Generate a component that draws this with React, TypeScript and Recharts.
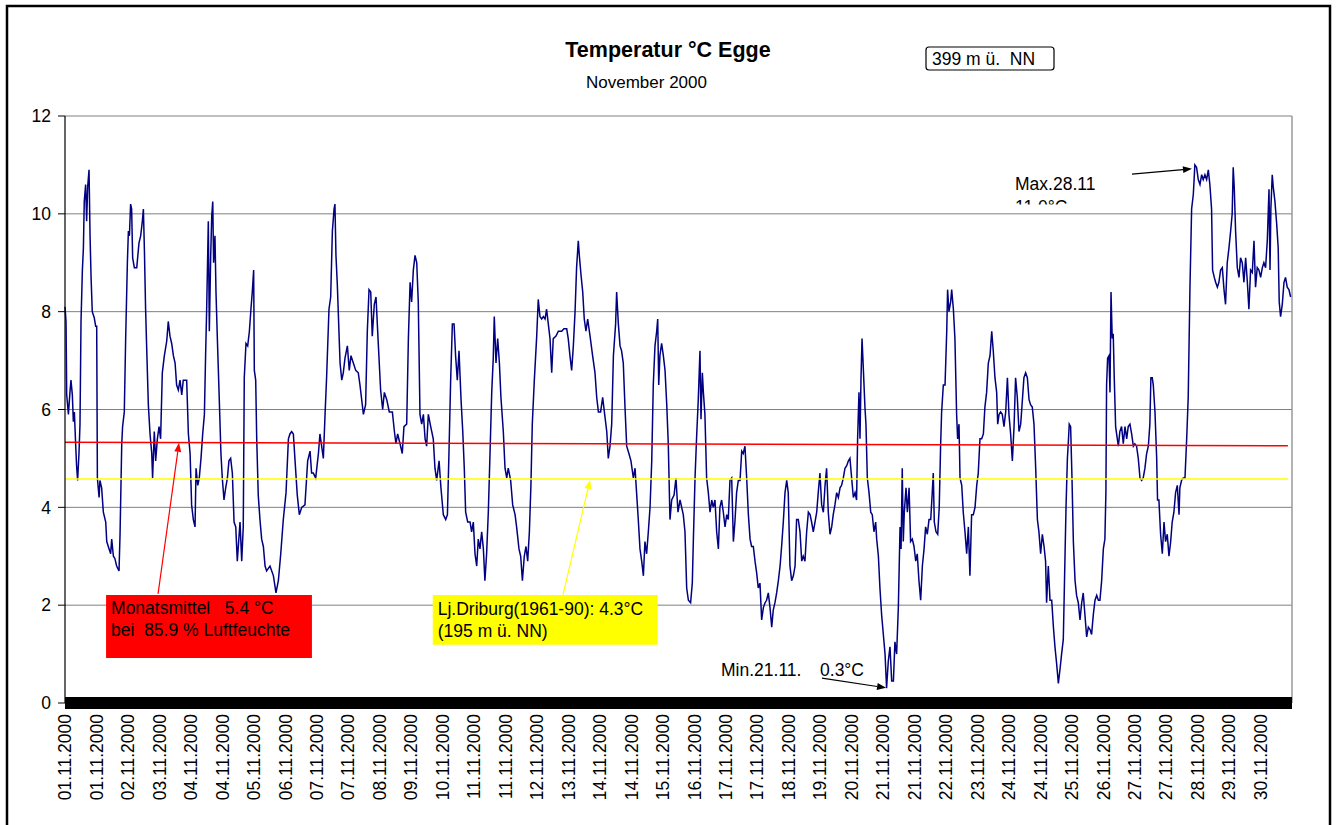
import React from 'react';
import { LineChart, Line, XAxis, YAxis, CartesianGrid, ReferenceLine, ReferenceArea } from 'recharts';

const FONT = '"Liberation Sans", Arial, Helvetica, sans-serif';

// x tick labels (one every ~18.5 h, as in the original category axis)
const tickLabels = [
  '01.11.2000', '01.11.2000', '02.11.2000', '03.11.2000', '04.11.2000', '04.11.2000', '05.11.2000',
  '06.11.2000', '07.11.2000', '07.11.2000', '08.11.2000', '09.11.2000', '10.11.2000', '11.11.2000',
  '11.11.2000', '12.11.2000', '13.11.2000', '14.11.2000', '14.11.2000', '15.11.2000', '16.11.2000',
  '17.11.2000', '17.11.2000', '18.11.2000', '19.11.2000', '20.11.2000', '21.11.2000', '21.11.2000',
  '22.11.2000', '23.11.2000', '24.11.2000', '24.11.2000', '25.11.2000', '26.11.2000', '27.11.2000',
  '27.11.2000', '28.11.2000', '29.11.2000', '30.11.2000',
];
const yTicks = [0, 2, 4, 6, 8, 10, 12];
const monthHours = 720;

// temperature readings: [hours since 01.11.2000 00:00, °C]
const block1: [number, number][] = [
  [0, 8.1], [0.6, 7.8], [1.0, 6.3], [2.0, 5.9], [2.9, 6.35], [3.5, 6.6], [4.3, 6.3], [4.9, 5.75], [5.5, 5.95], [6.3, 5.25],
  [6.8, 4.85], [7.4, 4.55], [8.2, 5.1], [8.8, 5.7], [9.4, 7.8], [10.2, 8.85], [10.8, 9.3], [11.3, 10.25], [12.1, 10.6],
  [12.7, 9.85], [13.3, 10.55], [14.1, 10.9], [14.7, 9.55], [15.3, 8.7], [16.0, 8.0], [17.2, 7.87], [18.0, 7.7], [18.6, 7.7],
  [19.0, 4.6], [20.0, 4.2], [20.5, 4.55], [21.5, 4.4], [22.5, 3.9], [23.9, 3.7], [24.5, 3.3], [25.4, 3.2], [26.8, 3.05],
  [27.4, 3.35], [28.4, 3.0], [29.3, 2.95], [30.3, 2.8], [31.7, 2.7], [32.3, 3.45], [33.3, 5.3], [33.8, 5.65], [34.8, 5.95],
  [35.6, 7.45], [36.6, 9.0], [37.2, 9.65], [37.8, 9.55], [38.5, 10.2], [39.1, 10.1], [39.7, 9.1], [40.7, 8.9], [42.1, 8.9],
  [43.4, 9.4], [44.4, 9.55], [45.4, 9.85], [46.0, 10.1], [46.6, 9.25], [47.3, 8.05], [47.9, 7.3], [48.9, 6.1], [49.9, 5.5],
  [50.9, 5.1], [51.4, 4.6], [52.4, 5.55], [53.2, 4.95], [54.2, 5.4], [55.2, 5.65], [56.1, 5.4], [57.1, 6.75], [58.3, 7.1],
  [59.7, 7.4], [60.6, 7.8], [61.6, 7.5], [62.6, 7.35], [63.6, 7.1], [64.6, 6.95], [65.5, 6.5], [66.5, 6.4], [67.5, 6.6],
  [68.5, 6.3], [69.4, 6.6], [71.4, 6.6], [72.4, 5.5], [73.4, 5.1], [74.3, 4.05], [75.3, 3.75], [76.3, 3.6], [76.9, 4.8],
  [77.9, 4.45], [78.8, 4.6], [79.8, 5.0], [80.8, 5.5], [81.8, 5.9], [82.5, 7.1], [83.1, 8.0], [84.1, 9.85], [84.7, 7.6],
  [85.5, 9.15], [86.1, 9.95], [86.7, 10.25], [87.2, 9.0], [88.0, 9.55], [88.6, 8.4], [89.4, 7.45], [90.4, 6.35], [91.5, 5.1],
  [92.3, 4.6], [93.3, 4.15], [94.3, 4.4], [95.3, 4.6], [96.2, 4.95], [97.2, 5.0], [98.2, 4.7], [99.2, 3.7], [100.2, 3.6],
  [101.1, 2.9], [102.7, 3.7], [103.7, 2.9], [104.6, 3.6], [105.2, 6.65], [106.2, 7.35], [107.2, 7.3], [108.2, 7.6],
  [109.1, 8.05], [109.9, 8.4], [110.7, 8.85], [111.1, 6.8], [111.9, 6.6], [112.5, 5.4], [113.4, 4.25], [114.4, 3.75],
  [115.4, 3.35], [116.4, 3.2], [117.4, 2.8], [118.3, 2.7], [120.3, 2.8],
];
const block2: [number, number][] = [
  [122.3, 2.6], [123.8, 2.25], [125.2, 2.5], [126.6, 3.05], [128.1, 3.75], [129.7, 4.3], [131.1, 5.4], [132.0, 5.5],
  [133.0, 5.55], [134.0, 5.5], [135.0, 4.95], [136.3, 4.25], [137.5, 3.85], [138.9, 4.0], [140.8, 4.05], [142.4, 4.95],
  [143.8, 5.15], [144.7, 4.7], [145.7, 4.7], [147.1, 4.6], [148.7, 5.1], [149.6, 5.5], [150.6, 5.25], [151.6, 5.0],
  [152.6, 5.9], [153.5, 6.65], [154.9, 8.05], [155.9, 8.3], [156.9, 9.65], [157.9, 10.1], [158.4, 10.2], [159.0, 9.15],
  [159.8, 8.55], [160.6, 7.75], [161.4, 6.95], [162.4, 6.6], [163.3, 6.75], [164.3, 7.05], [165.7, 7.3], [166.8, 6.8],
  [167.8, 7.1], [169.2, 6.95], [170.6, 6.8], [172.1, 6.75], [173.1, 6.5], [174.1, 6.2], [175.1, 5.9], [176.4, 6.1],
  [177.4, 7.6], [178.4, 8.45], [179.4, 8.4], [180.3, 7.5], [181.5, 8.15], [182.5, 8.3], [183.9, 7.3], [185.2, 6.4],
  [186.4, 6.0], [187.4, 6.35], [188.8, 6.2], [190.3, 5.95], [192.1, 5.95], [193.3, 5.55], [194.2, 5.3], [195.2, 5.5],
  [196.6, 5.3], [197.9, 5.1], [198.9, 5.65], [200.5, 5.7], [201.5, 7.45], [202.5, 8.6], [203.4, 8.2], [204.4, 8.85],
  [205.4, 9.15], [206.4, 9.0], [207.3, 8.2], [208.3, 5.9], [209.3, 5.7], [210.3, 5.9], [211.3, 5.4], [212.2, 5.25],
  [213.2, 5.9], [214.6, 5.65], [216.1, 5.4], [217.1, 4.8], [218.1, 4.55], [219.5, 4.95], [220.6, 4.4], [222.0, 3.85],
  [223.4, 3.75], [224.4, 3.85], [225.3, 5.1], [226.3, 6.6], [227.3, 7.75], [228.3, 7.75], [229.2, 7.1], [230.2, 6.6],
  [231.2, 7.2], [232.4, 6.2], [233.4, 5.55], [234.3, 4.8], [235.1, 3.9], [236.3, 3.7],
];
const block3: [number, number][] = [
  [237.7, 3.7], [238.6, 3.5], [239.6, 3.7], [240.6, 3.05], [241.6, 2.8], [242.5, 3.35], [243.5, 3.15], [244.5, 3.5],
  [245.5, 3.15], [246.4, 2.5], [247.4, 3.05], [248.4, 3.9], [249.4, 5.1], [250.4, 6.35], [251.3, 7.05], [251.9, 7.9],
  [252.9, 6.95], [253.9, 7.45], [254.9, 6.95], [255.8, 6.25], [257.2, 5.55], [258.2, 4.8], [259.2, 4.6], [260.1, 4.8],
  [261.5, 4.55], [262.7, 4.05], [264.1, 3.85], [265.0, 3.6], [266.4, 3.15], [267.4, 3.0], [268.4, 2.5], [269.5, 3.0],
  [270.5, 3.2], [271.5, 2.9], [272.5, 3.5], [273.4, 4.45], [274.2, 5.7], [275.4, 6.6], [276.8, 7.5], [277.7, 8.25],
  [278.7, 7.9], [279.7, 7.85], [280.7, 7.9], [281.7, 7.85], [282.6, 8.05], [283.6, 7.75], [284.6, 7.45], [285.6, 6.75],
  [286.5, 7.45], [288.1, 7.5], [289.5, 7.6], [291.4, 7.6], [292.8, 7.65], [294.4, 7.65], [295.3, 7.45], [296.3, 7.1],
  [297.3, 6.8], [298.3, 7.3], [299.3, 8.0], [300.2, 8.9], [301.2, 9.45], [301.8, 9.15], [302.8, 8.75], [303.8, 8.4],
  [304.7, 7.85], [305.7, 7.6], [306.7, 7.85], [308.1, 7.5], [309.6, 7.1], [311.0, 6.75], [312.0, 6.25], [313.0, 5.95],
  [314.3, 5.95], [315.5, 6.25], [316.5, 5.95], [317.9, 5.55], [318.8, 5.0], [319.8, 5.25], [320.8, 5.7], [321.8, 7.1],
  [323.1, 7.75], [323.7, 8.4], [324.7, 7.75], [325.7, 7.3], [326.6, 7.2], [327.6, 6.95], [328.6, 6.05], [329.6, 5.25],
  [330.9, 5.1], [332.1, 4.95], [333.5, 4.6], [334.5, 4.8], [335.4, 4.3], [336.4, 3.75], [337.4, 3.15], [338.4, 2.9],
  [339.4, 2.6], [340.3, 3.3], [341.3, 3.05], [342.3, 3.5], [343.3, 4.0], [344.3, 4.95], [345.2, 6.5], [346.2, 7.3],
  [347.2, 7.6], [347.8, 7.85], [348.4, 6.5], [349.1, 7.1], [350.1, 7.35], [351.1, 7.1], [352.1, 6.8], [353.1, 6.1],
  [354.0, 5.3], [355.0, 3.75], [356.0, 4.15], [357.4, 4.25], [358.5, 4.6], [359.7, 3.9], [360.9, 4.15],
];
const block4: [number, number][] = [
  [362.8, 3.85], [363.8, 3.5], [364.8, 2.35], [365.8, 2.1], [367.1, 2.05], [368.1, 2.45], [368.7, 3.3], [369.7, 4.6],
  [370.7, 5.5], [371.6, 6.2], [372.6, 7.2], [373.2, 5.8], [374.0, 6.75], [374.6, 6.35], [375.5, 5.9], [376.5, 4.6],
  [377.5, 4.3], [378.5, 3.9], [379.5, 4.15], [380.4, 4.0], [381.4, 4.15], [382.4, 3.5], [383.4, 3.15], [384.3, 4.0],
  [385.3, 4.15], [386.3, 3.9], [387.3, 3.6], [388.3, 3.85], [389.2, 3.75], [390.2, 4.55], [391.2, 4.6], [392.2, 3.3],
  [393.1, 3.7], [394.1, 4.3], [395.1, 4.55], [396.1, 4.55], [397.1, 5.15], [398.0, 5.1], [399.0, 5.25], [400.0, 4.6],
  [401.0, 3.85], [402.0, 3.35], [402.9, 3.2], [403.9, 3.2], [404.9, 2.9], [405.9, 2.65], [406.8, 2.35], [407.8, 2.45],
  [408.8, 1.7], [409.8, 1.95], [410.8, 2.05], [411.7, 2.1], [412.7, 2.25], [413.7, 1.95], [414.7, 1.55], [415.6, 1.9],
  [416.6, 2.05], [417.6, 2.25], [418.6, 2.5], [419.6, 2.8], [420.5, 3.2], [421.5, 3.7], [422.5, 4.3], [423.5, 4.55],
  [424.4, 4.3], [425.4, 2.8], [426.4, 2.5], [427.4, 2.6], [428.4, 2.8], [429.3, 3.75], [430.3, 3.75], [431.3, 3.5],
  [432.3, 2.9], [433.2, 3.0], [434.2, 2.9], [435.2, 3.5], [436.2, 3.9], [437.2, 3.85], [438.1, 3.7], [439.1, 3.5],
  [440.1, 3.7], [441.1, 3.9], [442.0, 4.3], [443.0, 4.7], [444.0, 4.05], [445.0, 3.9], [446.0, 4.45], [446.9, 4.8],
  [447.9, 3.9], [448.9, 3.45], [449.9, 3.6], [450.8, 3.85], [451.8, 4.05], [452.8, 4.3], [453.8, 4.2], [454.8, 4.4],
  [455.7, 4.45], [456.7, 4.6], [457.7, 4.8], [458.7, 4.85], [459.7, 4.95], [460.6, 5.0], [461.6, 4.6], [462.6, 4.2],
  [463.6, 4.3], [464.5, 4.15], [465.1, 5.4], [465.9, 6.35], [466.5, 5.4], [467.1, 6.65], [467.7, 7.45], [468.5, 6.8],
  [469.4, 6.05], [470.0, 5.7], [470.8, 4.6], [471.8, 4.3], [472.8, 3.9], [473.7, 3.85], [474.7, 3.5], [475.7, 3.7],
  [476.3, 3.35], [477.3, 3.0], [478.2, 2.35], [479.2, 1.8], [480.2, 1.4], [481.2, 1.0], [482.1, 0.3], [483.1, 0.85],
  [484.1, 1.15],
];
const block5: [number, number][] = [
  [485.1, 0.45], [486.1, 0.45], [487.0, 1.25], [488.0, 1.0], [489.0, 1.95], [490.0, 3.6], [490.6, 3.15], [491.3, 4.8],
  [491.9, 3.3], [492.5, 3.9], [493.5, 4.4], [494.3, 3.9], [495.3, 4.4], [496.2, 3.3], [497.2, 3.35], [498.2, 3.2],
  [499.2, 2.9], [500.1, 3.05], [501.1, 2.5], [502.1, 2.1], [503.1, 2.8], [504.1, 3.15], [505.0, 3.6], [506.0, 3.45],
  [507.0, 3.75], [508.0, 3.75], [508.9, 4.3], [509.5, 4.7], [510.1, 3.7], [511.1, 3.5], [512.1, 3.45], [513.0, 4.0],
  [513.8, 5.25], [514.4, 5.95], [515.4, 6.5], [516.4, 6.5], [517.4, 7.6], [517.9, 8.45], [518.7, 8.0], [519.7, 8.2],
  [520.3, 8.45], [521.3, 8.05], [522.2, 7.45], [523.2, 5.9], [523.8, 5.4], [524.6, 5.7], [525.2, 4.6], [526.2, 4.45],
  [527.1, 3.9], [528.1, 3.5], [529.1, 3.05], [530.1, 3.6], [531.0, 2.6], [532.0, 3.85], [533.0, 3.85], [534.0, 4.0],
  [535.0, 4.45], [535.9, 4.7], [536.9, 5.4], [537.9, 5.4], [538.9, 5.5], [539.8, 6.05], [540.8, 6.35], [541.8, 6.95],
  [542.8, 7.1], [543.8, 7.6], [544.7, 7.2], [545.7, 6.65], [546.7, 6.35], [547.3, 5.7], [548.1, 5.9], [549.0, 5.95],
  [550.0, 5.9], [551.0, 5.65], [552.0, 5.95], [553.0, 6.65], [553.9, 5.9], [554.9, 5.5], [555.9, 4.95], [556.9, 5.65],
  [557.8, 6.65], [558.8, 6.25], [559.8, 5.55], [560.8, 5.7], [561.8, 6.2], [562.7, 6.65], [563.7, 6.75], [564.7, 6.65],
  [565.7, 6.2], [566.6, 6.1], [567.6, 6.05], [568.6, 5.7], [569.6, 4.8], [570.6, 3.75], [571.5, 3.5], [572.5, 3.05],
  [573.5, 3.45], [574.5, 3.2], [575.4, 2.9], [576.0, 2.05], [577.0, 2.8], [578.0, 2.1], [579.0, 2.1], [580.0, 1.55],
  [580.9, 1.15], [581.9, 0.8], [582.9, 0.4], [583.9, 0.7], [584.8, 1.0], [585.8, 1.3], [586.8, 3.0], [587.4, 4.0],
  [588.2, 5.0], [588.7, 5.3], [589.3, 5.7], [590.1, 5.65], [590.9, 4.6], [591.7, 3.3], [592.7, 2.5], [593.6, 2.2],
  [594.6, 2.05], [595.6, 1.7], [596.6, 2.05], [597.5, 2.25], [598.5, 1.8], [599.5, 1.35], [600.5, 1.55], [601.5, 1.5],
  [602.4, 1.4], [603.4, 1.8], [604.4, 2.1], [605.4, 2.2], [606.4, 2.1],
];
const block6: [number, number][] = [
  [607.3, 2.1], [608.3, 2.5], [609.3, 3.15], [610.2, 3.35], [610.8, 4.3], [611.2, 6.5], [611.8, 7.05], [612.6, 7.1],
  [613.2, 6.35], [613.8, 8.4], [614.5, 7.45], [615.1, 7.55], [615.7, 6.65], [616.5, 5.65], [617.5, 5.4], [618.1, 5.25],
  [619.0, 5.55], [620.0, 5.65], [621.0, 5.3], [622.0, 5.65], [623.0, 5.4], [623.9, 5.65], [624.9, 5.7], [625.9, 5.5],
  [626.9, 5.25], [627.8, 5.3], [628.8, 5.25], [629.8, 5.0], [630.8, 4.6], [631.8, 4.55], [632.7, 4.6], [633.7, 4.8],
  [634.7, 5.1], [635.7, 5.25], [636.6, 5.7], [637.2, 6.65], [638.0, 6.65], [638.6, 6.5], [639.6, 5.95], [640.6, 5.0],
  [641.1, 4.15], [641.9, 4.15], [642.9, 3.45], [643.9, 3.05], [644.9, 3.7], [645.8, 3.3], [646.8, 3.45], [647.8, 3.0],
  [648.8, 3.3], [649.7, 3.7], [650.7, 3.9], [651.7, 4.3], [652.7, 4.45], [653.7, 3.85], [654.2, 4.4], [655.2, 4.55],
  [656.2, 4.6], [657.2, 4.6], [658.2, 5.4], [659.1, 6.25], [660.1, 8.45], [661.1, 10.1], [662.1, 10.4], [663.0, 11.0],
  [664.0, 10.95], [665.0, 10.7], [666.0, 10.6], [667.0, 10.8], [667.9, 10.7], [668.9, 10.8], [669.9, 10.7], [670.9, 10.9],
  [671.8, 10.6], [672.8, 10.1], [673.4, 8.85], [674.4, 8.7], [675.2, 8.6], [676.2, 8.5], [677.1, 8.6], [678.1, 8.85],
  [679.1, 8.9], [680.1, 8.45], [681.0, 8.15], [682.0, 9.0], [683.0, 9.3], [684.0, 9.65], [684.9, 10.0], [685.5, 10.95],
  [686.1, 10.55], [686.9, 9.65], [687.9, 8.9], [688.9, 8.7], [689.8, 9.1], [690.8, 9.0], [691.8, 8.6], [692.8, 9.1],
  [693.8, 8.6], [694.7, 8.05], [695.7, 8.85], [696.7, 8.8], [697.7, 9.45], [698.6, 8.5], [699.6, 8.9], [700.6, 8.85],
  [701.6, 8.7], [702.6, 8.9], [703.5, 9.0], [704.5, 8.9], [705.5, 9.45], [706.5, 10.5], [707.1, 8.85], [707.6, 10.1],
  [708.4, 10.8], [709.0, 10.55], [710.0, 10.25], [711.0, 9.8], [711.9, 9.3], [712.5, 8.2], [713.3, 7.9], [714.3, 8.15],
  [715.3, 8.6], [716.2, 8.7], [717.2, 8.5], [718.2, 8.45], [719.2, 8.3],
];

// reference levels (°C) and the hour at which their lines end
const monthlyMean = [5.33, 5.26];
const climateMean = [4.58, 4.58];
const refEnd = 717.6;

const data = [...block1, ...block2, ...block3, ...block4, ...block5, ...block6].map(([h, t]) => ({ h, t }));
const tickStep = monthHours / tickLabels.length;
const xTicks = tickLabels.map((_, i) => i * tickStep);

const XTick = (props: any) => {
  const { x, y, payload } = props;
  const i = Math.round(payload.value / tickStep);
  const ty = y + 3;
  return (
    <text x={x} y={ty} transform={`rotate(-90, ${x}, ${ty})`} textAnchor="end" dy="0.36em"
      fontSize={17.5} fontFamily={FONT} fill="#000">
      {tickLabels[i]}
    </text>
  );
};

const arrowShape = (color: string, w: number) => (p: any) => {
  const { x1, y1, x2, y2 } = p;
  const a = Math.atan2(y2 - y1, x2 - x1);
  const L = 9, W = 3.5;
  const bx = x2 - L * Math.cos(a), by = y2 - L * Math.sin(a);
  const pts = `${x2},${y2} ${bx - W * Math.sin(a)},${by + W * Math.cos(a)} ${bx + W * Math.sin(a)},${by - W * Math.cos(a)}`;
  return (
    <g>
      <line x1={x1} y1={y1} x2={bx} y2={by} stroke={color} strokeWidth={w} />
      <polygon points={pts} fill={color} />
    </g>
  );
};

const boxText = (lines: string[], dx: number, base: number, gap: number, clip: boolean) => (p: any) => {
  const vb = p.viewBox || {};
  const { x, y, width, height } = vb;
  const t = (
    <text fontSize={17.5} fontFamily={FONT} fill="#000" xmlSpace="preserve" style={{ whiteSpace: 'pre' }}>
      {lines.map((l, i) => (
        <tspan key={i} x={(clip ? 0 : x) + dx} y={(clip ? 0 : y) + base + i * gap}>{l}</tspan>
      ))}
    </text>
  );
  if (clip) {
    return <svg x={x} y={y} width={width} height={height} overflow="hidden">{t}</svg>;
  }
  return t;
};

const minLabel = (p: any) => {
  const { x, y } = p.viewBox || {};
  return (
    <g fontSize={17.5} fontFamily={FONT} fill="#000">
      <text x={x + 3} y={y + 16}>Min.21.11.</text>
      <text x={x + 102} y={y + 16}>0.3°C</text>
    </g>
  );
};

export default function App() {
  return (
    <div style={{ position: 'absolute', left: 0, top: 0, width: 1336, height: 825, overflow: 'hidden', background: '#fff' }}>
      <div style={{ position: 'absolute', left: 0, top: 0 }}>
        <LineChart width={1336} height={825} data={data} margin={{ top: 116, right: 44, bottom: 7, left: 5 }}>
          <CartesianGrid vertical={false} stroke="#808080" strokeWidth={1} />
          <XAxis dataKey="h" type="number" domain={[0, monthHours]} ticks={xTicks} interval={0}
            height={115} tick={<XTick />} tickLine={false} tickSize={6} tickMargin={2}
            axisLine={{ stroke: '#000', strokeWidth: 12 }} />
          <YAxis type="number" domain={[0, 12]} ticks={yTicks} width={60} interval={0}
            tickSize={7} tickMargin={7} axisLine={{ stroke: '#000', strokeWidth: 1.2 }}
            tickLine={{ stroke: '#000' }}
            tick={{ fontSize: 17.5, fill: '#000', fontFamily: FONT }} />
          <ReferenceLine x={monthHours} stroke="#9a9a9a" strokeWidth={1.5} />
          <Line type="linear" dataKey="t" stroke="#000080" strokeWidth={1.5} dot={false} activeDot={false}
            isAnimationActive={false} />
          <ReferenceLine segment={[{ x: 0, y: monthlyMean[0] }, { x: refEnd, y: monthlyMean[1] }]} stroke="#ff0000" strokeWidth={1.5} />
          <ReferenceLine segment={[{ x: 0, y: climateMean[0] }, { x: refEnd, y: climateMean[1] }]} stroke="#ffff00" strokeWidth={1.5} />
          <ReferenceArea x1={24.1} x2={144.9} y1={0.92} y2={2.21} fill="#ff0000" fillOpacity={1} stroke="none"
            label={boxText(['Monatsmittel   5.4 °C', 'bei  85.9 % Luftfeuchte'], 5, 19, 22, false)} />
          <ReferenceArea x1={215.8} x2={347.8} y1={1.19} y2={2.21} fill="#ffff00" fillOpacity={1} stroke="none"
            label={boxText(['Lj.Driburg(1961-90): 4.3°C', '(195 m ü. NN)'], 5, 20, 22, false)} />
          <ReferenceArea x1={555.7} x2={613.2} y1={10.19} y2={10.86} fill="#fff" fillOpacity={0} stroke="none"
            label={boxText(['Max.28.11', '11.0°C'], 3, 18, 23.5, true)} />
          <ReferenceArea x1={383.2} x2={472.4} y1={0.43} y2={0.88} fill="#fff" fillOpacity={0} stroke="none"
            label={minLabel} />
          <ReferenceLine segment={[{ x: 54.6, y: 2.23 }, { x: 66.9, y: 5.32 }]} shape={arrowShape('#ff0000', 1.2)} />
          <ReferenceLine segment={[{ x: 292.2, y: 2.21 }, { x: 308.1, y: 4.56 }]} shape={arrowShape('#ffff00', 1.2)} />
          <ReferenceLine segment={[{ x: 626.1, y: 10.81 }, { x: 661.3, y: 10.92 }]} shape={arrowShape('#000', 1.2)} />
          <ReferenceLine segment={[{ x: 444.2, y: 0.51 }, { x: 481.8, y: 0.31 }]} shape={arrowShape('#000', 1.2)} />
        </LineChart>
      </div>
      <svg width={1336} height={825} style={{ position: 'absolute', left: 0, top: 0, pointerEvents: 'none' }}>
        <rect x={7} y={6} width={1323} height={900} fill="none" stroke="#000" strokeWidth={2.5} />
        <text x={668} y={57} textAnchor="middle" fontSize={21.5} fontWeight="bold" fontFamily={FONT} fill="#000">Temperatur °C Egge</text>
        <text x={646.5} y={88} textAnchor="middle" fontSize={17} fontFamily={FONT} fill="#000">November 2000</text>
        <rect x={926} y={47} width={128} height={23} rx={3} fill="none" stroke="#000" strokeWidth={1.2} />
        <text x={932} y={65} fontSize={17.5} fontFamily={FONT} fill="#000" xmlSpace="preserve" style={{ whiteSpace: 'pre' }}>399 m ü.  NN</text>
      </svg>
    </div>
  );
}
